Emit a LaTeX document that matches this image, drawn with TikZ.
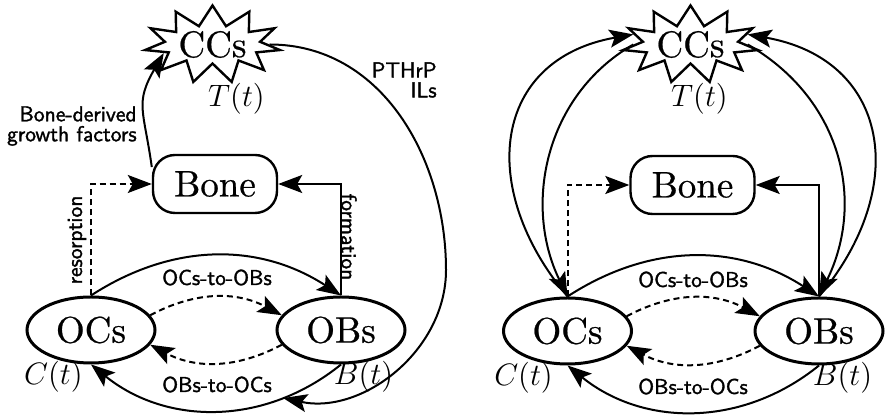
\RequirePackage{fix-cm}
\documentclass[tikz,border=0pt]{standalone}
\usepackage{fontspec}
\newfontfamily\labfont{lmsans10-regular.otf}[FakeBold=1.5]
\newfontfamily\boxfont{lmroman10-regular.otf}[FakeBold=0.6]
\usetikzlibrary{shapes.geometric,shapes.symbols,arrows.meta}
\begin{document}
\begin{tikzpicture}[x=0.5pt,y=0.5pt,
  every node/.style={inner sep=0pt},
  main/.style={font=\boxfont\fontsize{18.5}{20}\selectfont},
  cell/.style={ellipse, draw, line width=1.5pt, minimum width=64pt, minimum height=33pt, main},
  bonebox/.style={draw, rounded corners=11pt, line width=1.2pt, minimum width=62pt, minimum height=29pt, main},
  cancer/.style={starburst, random starburst=0, starburst points=11, starburst point height=10pt, draw, line width=1.2pt, minimum width=66pt, minimum height=38pt, main},
  varlab/.style={font=\fontsize{15.5}{17}\selectfont},
  lab/.style={font=\labfont\fontsize{10.8}{10}\selectfont},
  link/.style={line width=1pt, -{Stealth[length=12pt,width=9pt,inset=2.5pt]}},
  dlink/.style={link, dash pattern=on 3pt off 2pt},
]
\useasboundingbox (0,0) rectangle (893,-415);
% ---------- left panel ----------
\node[cancer] (CCs) at (212.5,-44.5) {CCs};
\node[varlab, anchor=base] (T) at (236.5,-107) {$T(t)$};
\node[bonebox] (Bone) at (215,-184) {Bone};
\node[cell] (OCs) at (91,-330) {OCs};
\node[cell] (OBs) at (341,-330) {OBs};
\node[varlab, anchor=base] (C) at (53.5,-385) {$C(t)$};
\node[varlab, anchor=base] (B) at (363.5,-385) {$B(t)$};

\draw[dlink] (OCs.north) |- (Bone.west);
\draw[link] (OBs.north) |- (Bone.east);
\draw[link] (OCs.north) to[bend left=33] (OBs.north);
\draw[dlink] (OCs.14) to[bend left=28] (OBs.166);
\draw[dlink] (OBs.-166) to[bend left=28] (OCs.-14);
\draw[link] (OBs.south) to[bend left=39] coordinate[pos=0.24] (hit) (OCs.south);
\draw[link] (Bone.165) to[out=98,in=240,looseness=1.3] (CCs.190);
\coordinate (bulge) at (446,-270);
\draw[link] (CCs.east) to[out=0,in=90] (bulge) to[out=-90,in=-12] (hit);

\node[lab, rotate=90] (res) at (77,-240) {resorption};
\node[lab, rotate=-90] (form) at (349,-237) {formation};
\node[lab, align=right, anchor=east] (bdgf) at (137,-126) {Bone-derived\\growth factors};
\node[lab, align=right, anchor=east] (pth) at (437,-80) {PTHrP\\ILs};
\node[lab, anchor=base] (o2b) at (217,-285) {OCs-to-OBs};
\node[lab, anchor=base] (b2o) at (217,-392) {OBs-to-OCs};

% ---------- right panel ----------
\node[cancer] (CCs2) at (690.5,-44.5) {CCs};
\node[varlab, anchor=base] (T2) at (699.5,-107) {$T(t)$};
\node[bonebox] (Bone2) at (692.5,-185) {Bone};
\node[cell] (OCs2) at (567.5,-331) {OCs};
\node[cell] (OBs2) at (819,-331) {OBs};
\node[varlab, anchor=base] (C2) at (523.5,-386) {$C(t)$};
\node[varlab, anchor=base] (B2) at (842.5,-386) {$B(t)$};

\draw[dlink] (OCs2.north) |- (Bone2.west);
\draw[link] (OBs2.north) |- (Bone2.east);
\draw[link] (OCs2.north) to[bend left=33] (OBs2.north);
\draw[dlink] (OCs2.14) to[bend left=28] (OBs2.166);
\draw[dlink] (OBs2.-166) to[bend left=28] (OCs2.-14);
\draw[link] (OBs2.south) to[bend left=39] (OCs2.south);
\draw[link] (OCs2.north) to[out=130,in=190,looseness=1.35] (CCs2.170);
\draw[link] (CCs2.west) to[out=210,in=116] (OCs2.north);
\draw[link] (CCs2.east) to[out=-30,in=64,looseness=1.05] (OBs2.north);
\draw[link] (OBs2.north) to[out=50,in=-10,looseness=1.35] (CCs2.10);

\node[lab, anchor=base] (o2b2) at (693,-287) {OCs-to-OBs};
\node[lab, anchor=base] (b2o2) at (693,-394) {OBs-to-OCs};
\end{tikzpicture}
\end{document}
